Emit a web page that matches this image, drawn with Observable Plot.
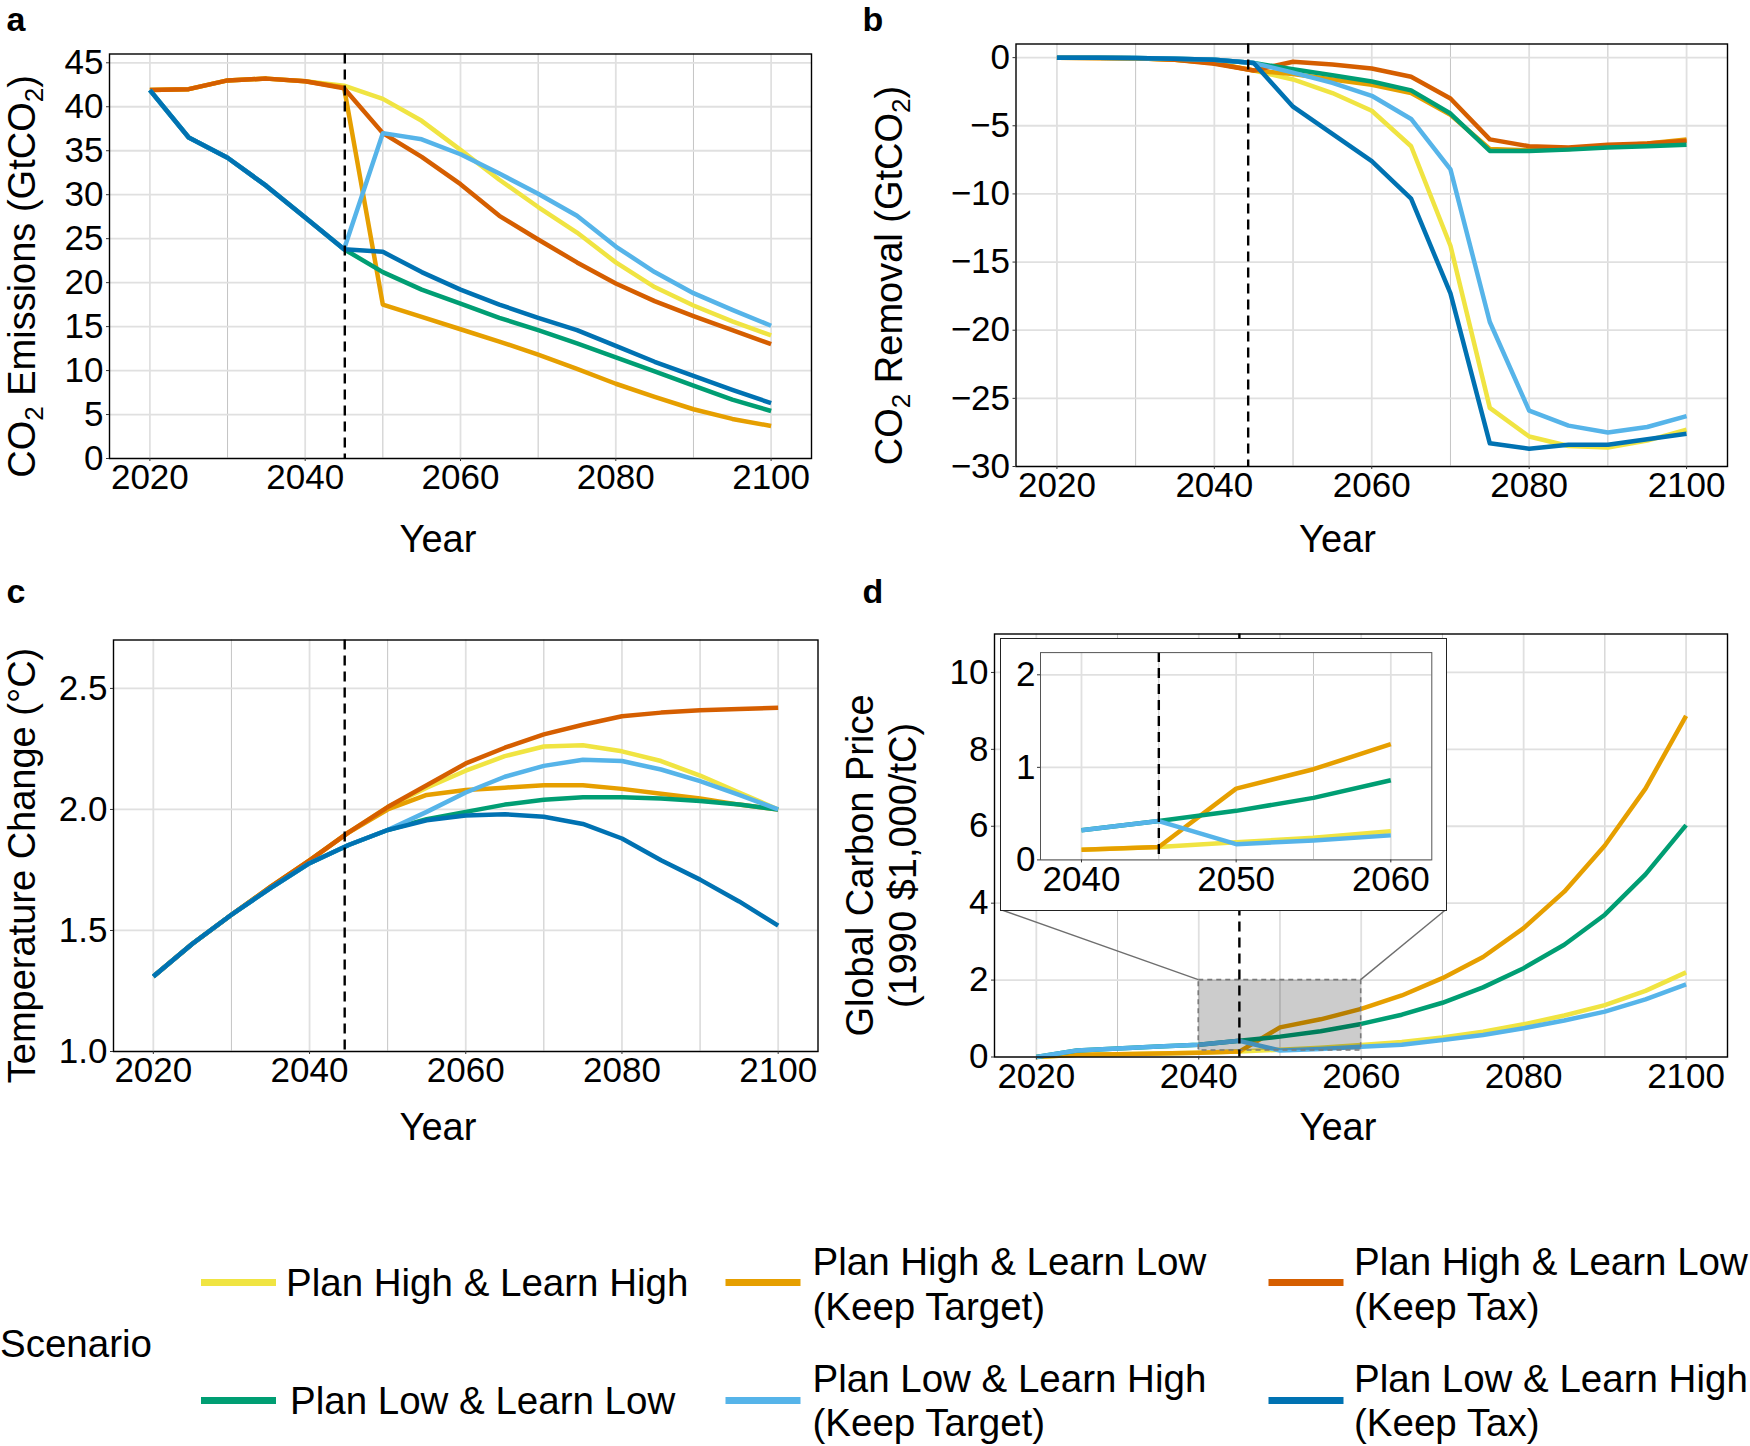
<!DOCTYPE html>
<html>
<head>
<meta charset="utf-8">
<script src="https://cdn.jsdelivr.net/npm/d3@7"></script>
<script src="https://cdn.jsdelivr.net/npm/@observablehq/plot@0.6"></script>
<style>
  html, body { margin: 0; padding: 0; background: #ffffff; }
  #page { position: relative; width: 1750px; height: 1446px; overflow: hidden; background: #ffffff;
          font-family: "Liberation Sans", Arial, Helvetica, sans-serif; }
  #page > svg { position: absolute; left: 0; top: 0; }
</style>
</head>
<body>
<div id="page"></div>
<script>
// ---------------- DATA ----------------
const years = [2020, 2025, 2030, 2035, 2040, 2045, 2050, 2055, 2060, 2065, 2070, 2075, 2080, 2085, 2090, 2095, 2100];
const scenarios = [
  "Plan High & Learn High",
  "Plan High & Learn Low (Keep Target)",
  "Plan High & Learn Low (Keep Tax)",
  "Plan Low & Learn Low",
  "Plan Low & Learn High (Keep Target)",
  "Plan Low & Learn High (Keep Tax)"
];
const scenarioColors = ["#F0E442", "#E69F00", "#D55E00", "#009E73", "#56B4E9", "#0072B2"];
const legendLabels = [
  ["Plan High & Learn High"],
  ["Plan High & Learn Low", "(Keep Target)"],
  ["Plan High & Learn Low", "(Keep Tax)"],
  ["Plan Low & Learn Low"],
  ["Plan Low & Learn High", "(Keep Target)"],
  ["Plan Low & Learn High", "(Keep Tax)"]
];
const legendTitle = "Scenario";
// dashed "learning" line as it sits in each panel of the picture
const pivotYearA = [2045.1];
const pivotYearB = [2044.3];
const pivotYearC = [2044.5];
const pivotYearD = [2045];

// a: CO2 emissions (GtCO2)
const emissionsPHLH       = [41.9, 42.0, 43.0, 43.2, 42.9, 42.4, 40.9, 38.4, 35.1, 31.7, 28.6, 25.7, 22.3, 19.5, 17.4, 15.6, 14.0];
const emissionsPHLLTarget = [41.9, 42.0, 43.0, 43.2, 42.9, 42.2, 17.5, 16.1, 14.7, 13.3, 11.8, 10.2, 8.5, 7.0, 5.6, 4.5, 3.7];
const emissionsPHLLTax    = [41.9, 42.0, 43.0, 43.2, 42.9, 42.1, 37.0, 34.3, 31.2, 27.6, 24.9, 22.3, 19.9, 17.9, 16.2, 14.6, 13.0];
const emissionsPLLL       = [41.9, 36.5, 34.2, 31.0, 27.4, 23.8, 21.2, 19.2, 17.6, 16.0, 14.6, 13.1, 11.5, 9.9, 8.3, 6.7, 5.4];
const emissionsPLLHTarget = [41.9, 36.5, 34.2, 31.0, 27.4, 23.8, 37.0, 36.3, 34.6, 32.4, 30.1, 27.6, 24.1, 21.2, 18.8, 16.9, 15.1];
const emissionsPLLHTax    = [41.9, 36.5, 34.2, 31.0, 27.4, 23.8, 23.5, 21.2, 19.2, 17.5, 16.0, 14.6, 12.8, 11.0, 9.4, 7.8, 6.3];

// b: CO2 removal (GtCO2)
const removalPHLH       = [0, -0.02, -0.05, -0.15, -0.4, -0.95, -1.6, -2.6, -3.9, -6.5, -13.8, -25.7, -27.8, -28.5, -28.6, -28.1, -27.3];
const removalPHLLTarget = [0, -0.02, -0.05, -0.15, -0.4, -0.95, -1.2, -1.6, -2.0, -2.6, -4.2, -6.7, -6.8, -6.7, -6.5, -6.3, -6.0];
const removalPHLLTax    = [0, -0.02, -0.05, -0.15, -0.45, -0.95, -0.3, -0.5, -0.8, -1.4, -3.0, -6.0, -6.5, -6.6, -6.4, -6.3, -6.1];
const removalPLLL       = [0, -0.01, -0.03, -0.08, -0.15, -0.4, -0.85, -1.3, -1.75, -2.4, -4.1, -6.85, -6.85, -6.75, -6.6, -6.5, -6.4];
const removalPLLHTarget = [0, -0.01, -0.03, -0.08, -0.15, -0.4, -1.1, -1.85, -2.8, -4.5, -8.2, -19.4, -25.9, -27.0, -27.5, -27.1, -26.3];
const removalPLLHTax    = [0, -0.01, -0.03, -0.08, -0.15, -0.4, -3.6, -5.6, -7.6, -10.35, -17.3, -28.3, -28.7, -28.4, -28.4, -28.0, -27.6];

// c: temperature change (°C)
const tempPHLH       = [1.31, 1.445, 1.565, 1.68, 1.79, 1.905, 2.01, 2.09, 2.16, 2.22, 2.26, 2.265, 2.24, 2.20, 2.14, 2.07, 2.00];
const tempPHLLTarget = [1.31, 1.445, 1.565, 1.68, 1.79, 1.905, 2.00, 2.06, 2.08, 2.09, 2.10, 2.10, 2.085, 2.065, 2.045, 2.02, 2.00];
const tempPHLLTax    = [1.31, 1.445, 1.565, 1.68, 1.79, 1.905, 2.01, 2.10, 2.19, 2.255, 2.31, 2.35, 2.385, 2.40, 2.41, 2.415, 2.42];
const tempPLLL       = [1.31, 1.445, 1.565, 1.675, 1.778, 1.853, 1.915, 1.96, 1.99, 2.02, 2.04, 2.05, 2.05, 2.045, 2.035, 2.02, 2.00];
const tempPLLHTarget = [1.31, 1.445, 1.565, 1.675, 1.778, 1.853, 1.915, 1.99, 2.07, 2.135, 2.18, 2.205, 2.20, 2.165, 2.117, 2.06, 2.00];
const tempPLLHTax    = [1.31, 1.445, 1.565, 1.675, 1.778, 1.853, 1.915, 1.955, 1.975, 1.98, 1.97, 1.94, 1.88, 1.79, 1.71, 1.62, 1.52];

// d: global carbon price (1990 $1,000/tC) — Keep Tax scenarios are not drawn
const pricePHLH       = [0, 0.06, 0.07, 0.09, 0.11, 0.14, 0.19, 0.24, 0.31, 0.39, 0.51, 0.66, 0.85, 1.08, 1.35, 1.72, 2.2];
const pricePHLLTarget = [0, 0.06, 0.07, 0.09, 0.11, 0.14, 0.77, 0.98, 1.25, 1.6, 2.05, 2.6, 3.35, 4.3, 5.5, 6.98, 8.87];
const pricePLLL       = [0, 0.17, 0.22, 0.27, 0.32, 0.42, 0.53, 0.67, 0.86, 1.1, 1.41, 1.81, 2.31, 2.92, 3.7, 4.75, 6.03];
const pricePLLHTarget = [0, 0.17, 0.22, 0.27, 0.32, 0.42, 0.17, 0.21, 0.265, 0.32, 0.44, 0.57, 0.75, 0.95, 1.18, 1.5, 1.89];
const zoomYears = [2040, 2060];
const zoomPrice = [0.17, 2];

// tick values
const yearTicksMajor = [2020, 2040, 2060, 2080, 2100];
const yearTicksMinor = [2030, 2050, 2070, 2090];
const emissionTicks = [0, 5, 10, 15, 20, 25, 30, 35, 40, 45];
const removalTicks = [-30, -25, -20, -15, -10, -5, 0];
const tempTicks = [1.0, 1.5, 2.0, 2.5];
const priceTicks = [0, 2, 4, 6, 8, 10];
const insetYearTicksMajor = [2040, 2050, 2060];
const insetYearTicksMinor = [2045, 2055];
const insetPriceTicks = [0, 1, 2];

// titles
const titles = {
  a: {letter: "a", x: "Year", y: "CO₂ Emissions (GtCO₂)"},
  b: {letter: "b", x: "Year", y: "CO₂ Removal (GtCO₂)"},
  c: {letter: "c", x: "Year", y: "Temperature Change (°C)"},
  d: {letter: "d", x: "Year", y: "Global Carbon Price\n(1990 $1,000/tC)"}
};

// ---------------- TABLES ----------------
function longTable(names, arrays) {
  return names.flatMap((s, i) => years.map((yr, j) => ({scenario: s, year: yr, value: arrays[i][j]})));
}
const emissionsData = longTable(scenarios, [emissionsPHLH, emissionsPHLLTarget, emissionsPHLLTax, emissionsPLLL, emissionsPLLHTarget, emissionsPLLHTax]);
const removalData = longTable(scenarios, [removalPHLH, removalPHLLTarget, removalPHLLTax, removalPLLL, removalPLLHTarget, removalPLLHTax]);
const tempData = longTable(scenarios, [tempPHLH, tempPHLLTarget, tempPHLLTax, tempPLLL, tempPLLHTarget, tempPLLHTax]);
const priceData = longTable([scenarios[0], scenarios[1], scenarios[3], scenarios[4]], [pricePHLH, pricePHLLTarget, pricePLLL, pricePLLHTarget]);
const zoomRect = [{x1: zoomYears[0], x2: zoomYears[1], y1: zoomPrice[0], y2: zoomPrice[1]}];

// ---------------- DRAWING ----------------
const W = 1750, H = 1446;
const FONT = '"Liberation Sans", Arial, Helvetica, sans-serif';
const page = document.getElementById("page");

function subscripts(svg) {
  d3.select(svg).selectAll("text").each(function () {
    const t = this.textContent;
    if (!t.includes("₂")) return;
    const parts = t.split("₂");
    const sel = d3.select(this);
    sel.text(null);
    parts.forEach((p, i) => {
      if (i > 0) {
        sel.append("tspan").attr("dy", 8).attr("font-size", 26).text("2");
        sel.append("tspan").attr("dy", -8).text(p);
      } else {
        sel.append("tspan").text(p);
      }
    });
  });
}

function panel(o) {
  const [x0, x1, y0, y1] = o.frame;
  const w = o.w ?? W, h = o.h ?? H;
  const marks = [
    Plot.gridX(o.xMinor, {stroke: "#c4c4c4", strokeOpacity: 1, strokeWidth: 1}),
    Plot.gridX(o.xMajor, {stroke: "#e0e0e0", strokeOpacity: 1, strokeWidth: 1.8}),
    Plot.gridY(o.yMajor, {stroke: "#e0e0e0", strokeOpacity: 1, strokeWidth: 1.8}),
    Plot.line(o.data, {x: "year", y: "value", z: "scenario", stroke: "scenario",
                       strokeWidth: o.lineWidth ?? 4.5, strokeLinecap: "butt", strokeLinejoin: "round"}),
    ...(o.extra || []),
    Plot.ruleX(o.pivot, {stroke: "black", strokeWidth: o.dashWidth ?? 2.4, strokeDasharray: "10,6"}),
    Plot.frame({stroke: o.frameColor ?? "black", strokeWidth: o.frameWidth ?? 1.4}),
    Plot.axisX(o.xMajor, {tickSize: 3, tickPadding: 3, tickFormat: d3.format("d"), label: null, stroke: "#333"}),
    Plot.axisY(o.yMajor, {tickSize: 3, tickPadding: o.yPad ?? 3, tickFormat: o.yFormat, label: null, stroke: "#333"})
  ];
  if (o.titles) {
    const t = o.titles;
    marks.push(
      Plot.text([t.x], {text: d => d, frameAnchor: "bottom", dx: o.xt[0], dy: o.xt[1], fontSize: 38, lineAnchor: "middle"}),
      Plot.text([t.y], {text: d => d, frameAnchor: "left", rotate: -90, dx: o.yt[0], dy: o.yt[1], fontSize: 38,
                        lineAnchor: "middle", textAnchor: "middle", lineHeight: 1.13}),
      Plot.text([t.letter], {text: d => d, frameAnchor: "top-left", dx: o.lt[0], dy: o.lt[1], fontSize: 34,
                             fontWeight: "bold", lineAnchor: "bottom", textAnchor: "start"})
    );
  }
  const svg = Plot.plot({
    width: w, height: h,
    marginLeft: x0, marginRight: w - x1, marginTop: y0, marginBottom: h - y1,
    style: {fontFamily: FONT, fontSize: "35px", color: "black", background: "transparent", overflow: "visible"},
    x: {domain: o.xDomain},
    y: {domain: o.yDomain},
    color: {domain: scenarios, range: scenarioColors},
    marks
  });
  subscripts(svg);
  return svg;
}

// a
page.appendChild(panel({
  frame: [109, 811, 53.5, 458], xDomain: [2014.8, 2105.2], yDomain: [0, 46], pivot: pivotYearA,
  xMajor: yearTicksMajor, xMinor: yearTicksMinor, yMajor: emissionTicks, yFormat: d3.format("d"),
  data: emissionsData, titles: titles.a, xt: [-22.5, 81], yt: [-88.5, 20.25], lt: [-103, -23]
}));
// b
page.appendChild(panel({
  frame: [1015.5, 1727, 43.5, 466], xDomain: [2014.8, 2105.2], yDomain: [-30, 1], pivot: pivotYearB,
  xMajor: yearTicksMajor, xMinor: yearTicksMinor, yMajor: removalTicks, yFormat: d3.format("d"),
  data: removalData, titles: titles.b, xt: [-34.25, 73], yt: [-127.5, 20.25], lt: [-153.5, -13]
}));
// c
page.appendChild(panel({
  frame: [113, 817.5, 639.5, 1051], xDomain: [2014.9, 2105.1], yDomain: [1, 2.7], pivot: pivotYearC,
  xMajor: yearTicksMajor, xMinor: yearTicksMinor, yMajor: tempTicks, yFormat: d3.format(".1f"),
  data: tempData, titles: titles.c, xt: [-27.75, 76.5], yt: [-92, 19.75], lt: [-107, -37.5]
}));
// d
const pd = panel({
  frame: [994, 1727, 633.5, 1056.5], xDomain: [2014.85, 2105.1], yDomain: [0, 11], pivot: pivotYearD,
  xMajor: yearTicksMajor, xMinor: yearTicksMinor, yMajor: priceTicks, yFormat: d3.format("d"),
  data: priceData, titles: titles.d, xt: [-23, 71], yt: [-113.5, 20], lt: [-132, -31.5],
  extra: [Plot.rect(zoomRect, {x1: "x1", x2: "x2", y1: "y1", y2: "y2", fill: "black", fillOpacity: 0.2,
                               stroke: "#7a7a7a", strokeWidth: 1.6, strokeDasharray: "5,4"})]
});
page.appendChild(pd);

// inset
const insetBox = {left: 1000.5, top: 638.5, width: 445.5, height: 271};
const insetData = priceData.filter(d => d.year >= zoomYears[0] && d.year <= zoomYears[1]);
const inset = panel({
  w: insetBox.width, h: insetBox.height, pivot: pivotYearD,
  frame: [39, 430.3, 13.1, 220.4], xDomain: [2037.35, 2062.65], yDomain: [0, 2.24],
  xMajor: insetYearTicksMajor, xMinor: insetYearTicksMinor, yMajor: insetPriceTicks, yFormat: d3.format("d"),
  yPad: 2, data: insetData, frameColor: "#555", frameWidth: 1, dashWidth: 2.4
});
inset.style.left = insetBox.left + "px";
inset.style.top = insetBox.top + "px";
inset.style.background = "#ffffff";
inset.style.outline = "1.8px solid #222";
inset.style.outlineOffset = "-0.9px";
page.appendChild(inset);

// connectors from inset box to zoom rectangle
{
  const sx = pd.scale("x"), sy = pd.scale("y");
  const g = d3.select(pd).append("g").attr("stroke", "#6e6e6e").attr("stroke-width", 1.4);
  const bottom = insetBox.top + insetBox.height;
  [[insetBox.left, zoomYears[0]], [insetBox.left + insetBox.width, zoomYears[1]]].forEach(([px, yr]) => {
    g.append("line").attr("x1", px).attr("y1", bottom).attr("x2", sx.apply(yr)).attr("y2", sy.apply(zoomPrice[1]));
  });
}

// legend
{
  const svg = d3.select(page).append("svg").attr("width", W).attr("height", H)
    .style("font-family", FONT).style("font-size", "38.5px");
  const base = 13.8; // cap-centre to baseline
  svg.append("text").attr("x", 0).attr("y", 1343 + base).text(legendTitle);
  const cols = [{sw: 201, tx: [286, 290]}, {sw: 725.5, tx: [812.5, 812.5]}, {sw: 1268.5, tx: [1354, 1354]}];
  const rows = [{y: 1282.5, two: [1261.5, 1306.5]}, {y: 1400.5, two: [1378, 1422.5]}];
  scenarios.forEach((s, i) => {
    const r = Math.floor(i / 3), c = i % 3;
    const col = cols[c], row = rows[r];
    svg.append("line").attr("x1", col.sw).attr("x2", col.sw + 75).attr("y1", row.y).attr("y2", row.y)
      .attr("stroke", scenarioColors[i]).attr("stroke-width", 7);
    const lines = legendLabels[i];
    if (lines.length === 1) {
      svg.append("text").attr("x", col.tx[r]).attr("y", row.y + base).text(lines[0]);
    } else {
      lines.forEach((ln, k) => svg.append("text").attr("x", col.tx[r]).attr("y", row.two[k] + base).text(ln));
    }
  });
}
</script>
</body>
</html>
